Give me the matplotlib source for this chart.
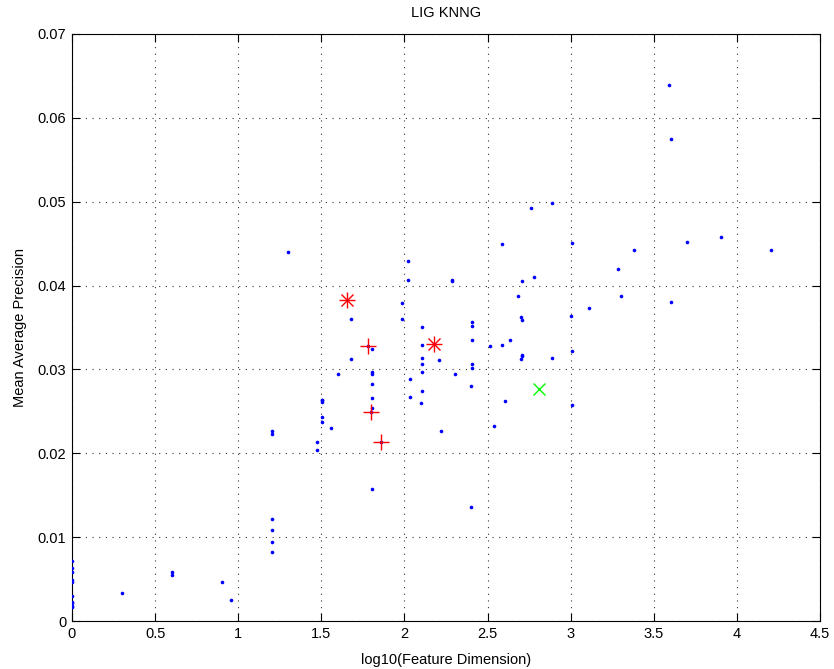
import numpy as np
import matplotlib
matplotlib.use("Agg")
import matplotlib.pyplot as plt

plt.rcParams['font.family'] = ['Liberation Sans', 'DejaVu Sans']

# all methods (blue dots)
dim_log = [0, 0, 0, 0, 0, 0, 0, 0, 0, 0,
           0.301, 0.602, 0.602, 0.903, 0.954,
           1.204, 1.204, 1.204, 1.204, 1.204, 1.204,
           1.301, 1.477, 1.477,
           1.505, 1.505, 1.505, 1.505, 1.505,
           1.556, 1.602, 1.681, 1.681,
           1.806, 1.806, 1.806, 1.806, 1.806, 1.806, 1.806,
           1.984, 1.984, 2.02, 2.02, 2.036, 2.036, 2.098,
           2.107, 2.107, 2.107, 2.107, 2.107, 2.107,
           2.206, 2.218, 2.285, 2.285, 2.303, 2.399, 2.399,
           2.408, 2.408, 2.408, 2.408, 2.408,
           2.513, 2.539, 2.585, 2.585, 2.604, 2.635, 2.681,
           2.70, 2.709, 2.709, 2.709, 2.70, 2.709,
           2.762, 2.78, 2.886, 2.886,
           3.0, 3.01, 3.01, 3.01, 3.113, 3.283, 3.30, 3.38,
           3.591, 3.602, 3.602, 3.699, 3.903, 4.204,
           1.781, 1.801, 1.861, 1.657, 2.178]
map_all = [0.0072, 0.0063, 0.0058, 0.0049, 0.0047, 0.0030, 0.0023, 0.0021, 0.0018, 0.0017,
           0.0033, 0.0058, 0.0055, 0.0046, 0.0025,
           0.0227, 0.0223, 0.0122, 0.0109, 0.0094, 0.0082,
           0.0440, 0.0213, 0.0204,
           0.0264, 0.0263, 0.0261, 0.0243, 0.0237,
           0.0230, 0.0294, 0.0360, 0.0313,
           0.0324, 0.0297, 0.0295, 0.0283, 0.0266, 0.0254, 0.0157,
           0.0379, 0.0360, 0.0429, 0.0407, 0.0289, 0.0267, 0.0260,
           0.0351, 0.0329, 0.0314, 0.0307, 0.0297, 0.0274,
           0.0311, 0.0227, 0.0407, 0.0405, 0.0295, 0.0280, 0.0136,
           0.0357, 0.0352, 0.0335, 0.0306, 0.0302,
           0.0328, 0.0232, 0.0450, 0.0329, 0.0262, 0.0335, 0.0387,
           0.0362, 0.0359, 0.0317, 0.0316, 0.0313, 0.0406,
           0.0492, 0.0410, 0.0498, 0.0314,
           0.0364, 0.0451, 0.0322, 0.0258, 0.0373, 0.0420, 0.0388, 0.0442,
           0.0639, 0.0575, 0.0381, 0.0452, 0.0458, 0.0442,
           0.0328, 0.0249, 0.02134, 0.03825, 0.0330]

# highlighted methods
plus_x = [1.781, 1.801, 1.861]
plus_y = [0.0328, 0.0249, 0.02134]
star_x = [1.657, 2.178]
star_y = [0.03825, 0.0330]
cross_x = [2.812]
cross_y = [0.02765]

fig = plt.figure(figsize=(8.34, 6.69), dpi=100)
ax = fig.add_axes([0.0863, 0.0717, 0.8969, 0.8775])

ax.plot(dim_log, map_all, 'o', color='blue', markersize=2.6, markeredgewidth=0, zorder=3)
ax.plot(plus_x, plus_y, '+', color='red', markersize=12, markeredgewidth=1, zorder=4)
ax.plot(star_x, star_y, '+', color='red', markersize=12, markeredgewidth=1, zorder=4)
ax.plot(star_x, star_y, 'x', color='red', markersize=8.5, markeredgewidth=1, zorder=4)
ax.plot(cross_x, cross_y, 'x', color='#00ff00', markersize=9, markeredgewidth=1, zorder=4)

ax.set_xlim(0, 4.5)
ax.set_ylim(0, 0.07)
ax.set_xticks(np.arange(0, 4.51, 0.5))
ax.set_xticklabels(['0', '0.5', '1', '1.5', '2', '2.5', '3', '3.5', '4', '4.5'])
ax.set_yticks(np.arange(0, 0.0701, 0.01))
ax.set_yticklabels(['0', '0.01', '0.02', '0.03', '0.04', '0.05', '0.06', '0.07'])
ax.tick_params(direction='in', length=6, width=0.8, top=True, right=True,
               labelsize=10.5, pad=4)
ax.grid(True, color='0.2', linestyle=(0, (1, 5)), linewidth=0.8)
for s in ax.spines.values():
    s.set_linewidth(0.8)

ax.set_title('LIG KNNG', fontsize=10.5, pad=12)
ax.set_xlabel('log10(Feature Dimension)', fontsize=10.5, labelpad=9)
ax.set_ylabel('Mean Average Precision', fontsize=10.5, labelpad=8)

fig.savefig('out.png', dpi=100)
